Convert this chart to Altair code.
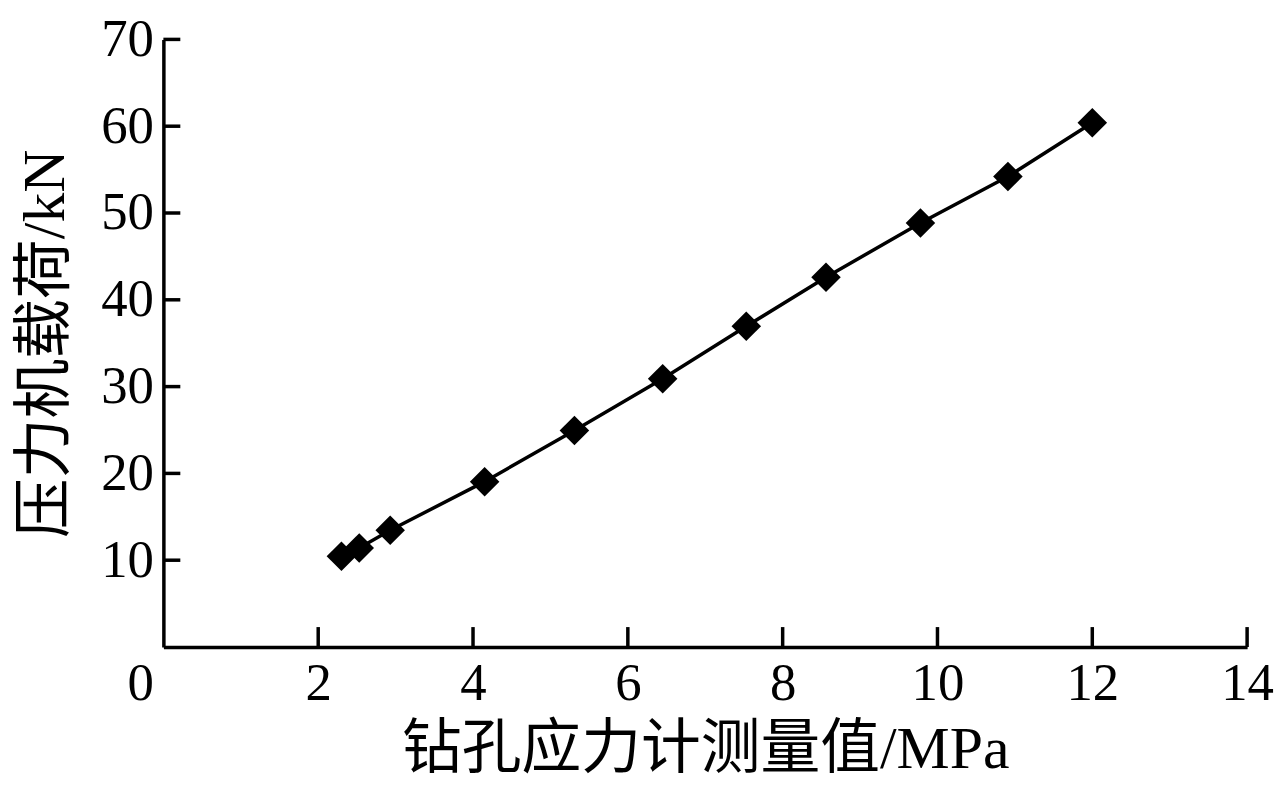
import altair as alt
import pandas as pd

# data
stress_mpa = [2.30, 2.53, 2.93, 4.15, 5.31, 6.45, 7.53, 8.56, 9.78, 10.91, 12.0]
load_kn = [10.45, 11.4, 13.45, 19.05, 24.95, 30.9, 36.95, 42.6, 48.85, 54.2, 60.4]
x_ticks = [0, 2, 4, 6, 8, 10, 12, 14]
y_ticks = [10, 20, 30, 40, 50, 60, 70]

df = pd.DataFrame({"x": stress_mpa, "y": load_kn})
xt = pd.DataFrame({"v": x_ticks[1:]})
yt = pd.DataFrame({"v": y_ticks})

FONT = "Liberation Serif, Times New Roman, Noto Sans CJK SC"
W, H = 1088, 610
TICK = 17
LFS = 53

xscale = alt.Scale(domain=[0, 14], nice=False, zero=True)
yscale = alt.Scale(domain=[0, 70], nice=False, zero=True)

xaxis = alt.Axis(values=x_ticks, format="d", title="钻孔应力计测量值/MPa", grid=False, ticks=False,
                 domainColor="black", domainWidth=3.5, labelColor="black",
                 labelFont=FONT, labelFontSize=LFS, labelPadding=11,
                 labelAlign={"condition": {"test": "datum.value == 0", "value": "right"}, "value": "center"},
                 labelOffset={"condition": {"test": "datum.value == 0", "value": -10}, "value": 0},
                 titleFont=FONT, titleFontSize=60, titleFontWeight="normal",
                 titleColor="black", titlePadding=10, labelFlush=False)
yaxis = alt.Axis(values=y_ticks, format="d", title="压力机载荷/kN", grid=False, ticks=False,
                 domainColor="black", domainWidth=3.5, labelColor="black",
                 labelFont=FONT, labelFontSize=LFS, labelPadding=10,
                 titleFont=FONT, titleFontSize=60, titleFontWeight="normal",
                 titleColor="black", titlePadding=24, labelFlush=False)

line = alt.Chart(df).mark_line(color="black", strokeWidth=3.5).encode(
    x=alt.X("x:Q", scale=xscale, axis=xaxis),
    y=alt.Y("y:Q", scale=yscale, axis=yaxis),
)
pts = alt.Chart(df).mark_point(shape="diamond", filled=True, color="black",
                               size=880, opacity=1).encode(
    x=alt.X("x:Q", scale=xscale),
    y=alt.Y("y:Q", scale=yscale),
)
ytick_rules = alt.Chart(yt).mark_rule(color="black", strokeWidth=3.5).encode(
    y=alt.Y("v:Q", scale=yscale),
    x=alt.value(0), x2=alt.value(TICK),
)
xtick_rules = alt.Chart(xt).mark_rule(color="black", strokeWidth=3.5).encode(
    x=alt.X("v:Q", scale=xscale),
    y=alt.value(H), y2=alt.value(H - TICK - 3),
)

chart = alt.layer(line, pts, ytick_rules, xtick_rules).properties(
    width=W, height=H,
    padding={"left": 8, "top": 4, "right": 0, "bottom": 0},
    background="white",
).configure_view(stroke=None)

chart.save("out.html", embed_options={"renderer": "svg", "actions": False})
